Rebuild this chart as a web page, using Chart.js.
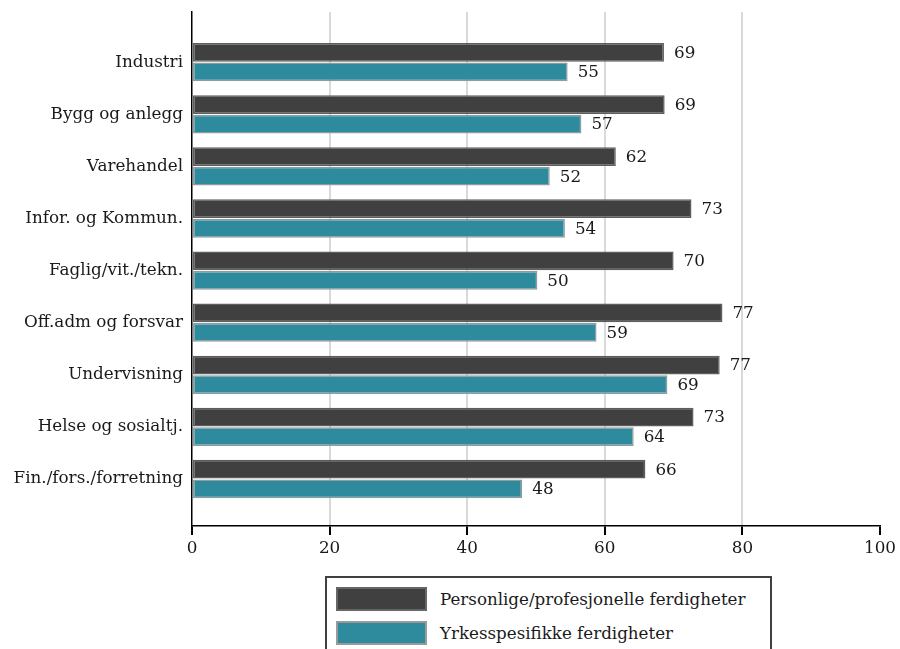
<!DOCTYPE html>
<html>
<head>
<meta charset="utf-8">
<script src="https://cdn.jsdelivr.net/npm/chart.js@4/dist/chart.umd.min.js"></script>
<style>
  html, body { margin: 0; padding: 0; background: #ffffff; }
  #wrap { position: relative; width: 900px; height: 649px; overflow: hidden; }
  #legend { position: absolute; left: 325px; top: 576px; width: 447px; height: 100px;
    border: 2px solid #404040; box-sizing: border-box; background: #fff;
    font-family: "DejaVu Serif", serif; font-size: 16.7px; color: #1a1a1a; }
  .li { position: absolute; left: 9px; height: 24px; display: flex; align-items: center; }
  .sw { width: 91px; height: 24px; box-sizing: border-box; border: 2px solid; margin-right: 13px; }
</style>
</head>
<body>
<div id="wrap">
  <canvas id="c" width="900" height="649"></canvas>
  <div id="legend"></div>
</div>
<script>
const categories = ["Industri", "Bygg og anlegg", "Varehandel", "Infor. og Kommun.", "Faglig/vit./tekn.",
  "Off.adm og forsvar", "Undervisning", "Helse og sosialtj.", "Fin./fors./forretning"];
const seriesNames = ["Personlige/profesjonelle ferdigheter", "Yrkesspesifikke ferdigheter"];
const personlige = [68.6, 68.7, 61.6, 72.6, 70.0, 77.1, 76.7, 72.9, 65.9];
const yrkesspesifikke = [54.6, 56.6, 52.0, 54.2, 50.2, 58.8, 69.1, 64.2, 48.0];
const xTicks = [0, 20, 40, 60, 80, 100];

const FONT = "DejaVu Serif";
const FSIZE = 16.8;
const fills = ["#404040", "#2e8b9d"];
const borders = ["#5e5e5e", "#8e9c9f"];

const toPoints = arr => arr.map((v, i) => ({ x: v, y: i }));

const valueLabels = {
  id: "valueLabels",
  afterDatasetsDraw(chart) {
    const ctx = chart.ctx;
    ctx.save();
    ctx.font = FSIZE + "px '" + FONT + "'";
    ctx.fillStyle = "#1a1a1a";
    ctx.textBaseline = "middle";
    ctx.textAlign = "left";
    chart.data.datasets.forEach((ds, di) => {
      const meta = chart.getDatasetMeta(di);
      meta.data.forEach((el, i) => {
        ctx.fillText(String(Math.round(ds.data[i].x)), el.x + 10, el.y + 1);
      });
    });
    ctx.restore();
  }
};

const chart = new Chart(document.getElementById("c"), {
  type: "bar",
  data: {
    datasets: [
      { label: seriesNames[0], data: toPoints(personlige), backgroundColor: fills[0], borderColor: borders[0],
        borderWidth: 1.5, borderSkipped: false, barPercentage: 0.96, categoryPercentage: 0.75 },
      { label: seriesNames[1], data: toPoints(yrkesspesifikke), backgroundColor: fills[1], borderColor: borders[1],
        borderWidth: 1.5, borderSkipped: false, barPercentage: 0.96, categoryPercentage: 0.75 }
    ]
  },
  options: {
    indexAxis: "y",
    responsive: false,
    animation: false,
    layout: { padding: { top: 12, right: 20, bottom: 83, left: 0 } },
    plugins: { legend: { display: false }, tooltip: { enabled: false } },
    scales: {
      x: {
        type: "linear", min: 0, max: 100, offset: false,
        afterBuildTicks: s => { s.ticks = xTicks.map(v => ({ value: v })); },
        afterFit: s => { s.height = 40; },
        grid: {
          color: c => (c.tick && (c.tick.value === 0 || c.tick.value === 100)) ? "rgba(0,0,0,0)" : "#d9d9d9",
          lineWidth: 2, tickColor: "#000000", tickLength: 9, drawTicks: true, offset: false
        },
        border: { display: true, color: "#000000", width: 1.5 },
        ticks: { font: { family: FONT, size: FSIZE }, color: "#1a1a1a", padding: 4, maxRotation: 0 }
      },
      y: {
        type: "linear", reverse: true, min: -0.963, max: 8.902, offset: false,
        afterBuildTicks: s => { s.ticks = categories.map((_, i) => ({ value: i })); },
        afterFit: s => { s.width = 192; s.paddingTop = 0; s.paddingBottom = 0; },
        grid: { drawOnChartArea: false, drawTicks: false, offset: false },
        border: { display: true, color: "#000000", width: 1.5 },
        ticks: { font: { family: FONT, size: FSIZE }, color: "#1a1a1a", padding: 9,
          callback: v => categories[v] }
      }
    }
  },
  plugins: [valueLabels]
});

// HTML legend built from the chart's datasets
const legendEl = document.getElementById("legend");
chart.data.datasets.forEach((ds, i) => {
  const row = document.createElement("div");
  row.className = "li";
  row.style.top = (9 + i * 34) + "px";
  const sw = document.createElement("div");
  sw.className = "sw";
  sw.style.background = ds.backgroundColor;
  sw.style.borderColor = i === 0 ? "#666666" : "#9a9a9a";
  const tx = document.createElement("span");
  tx.textContent = ds.label;
  row.appendChild(sw); row.appendChild(tx);
  legendEl.appendChild(row);
});
</script>
</body>
</html>
